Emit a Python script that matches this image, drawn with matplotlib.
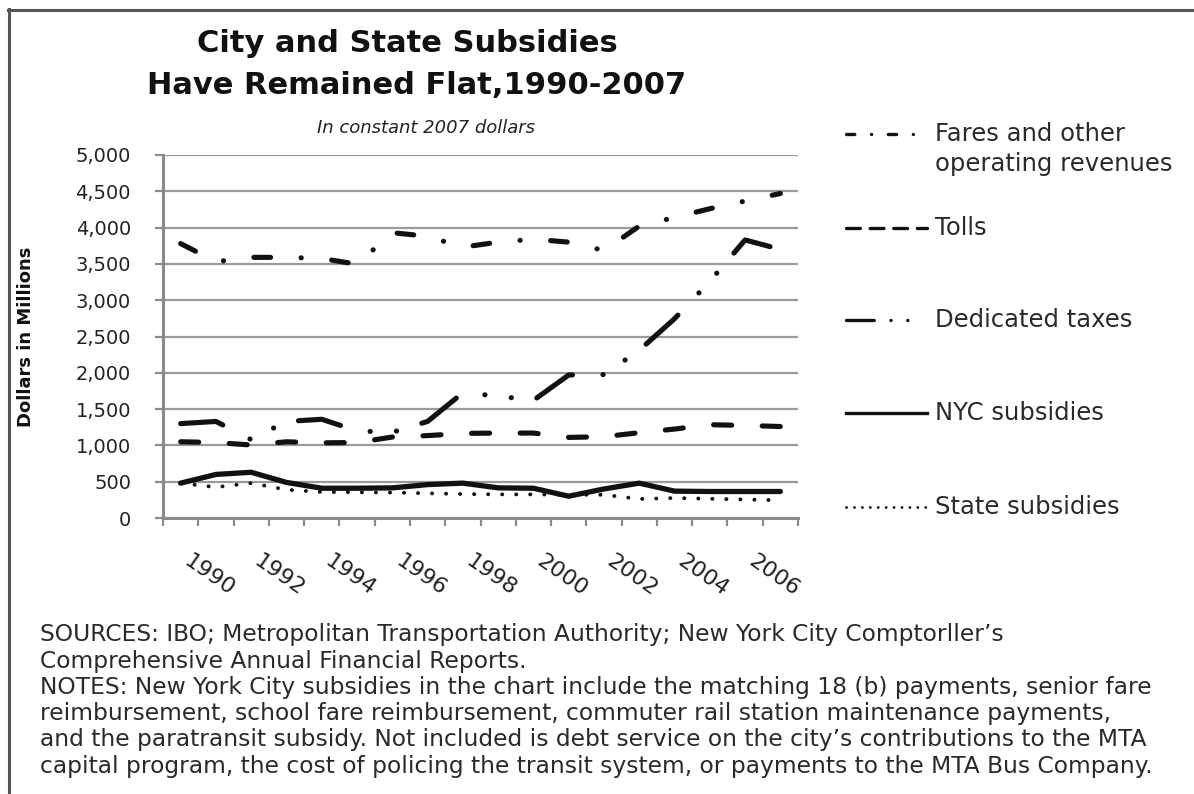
import matplotlib
matplotlib.use("Agg")
import matplotlib.pyplot as plt
from matplotlib.lines import Line2D
from matplotlib.ticker import FuncFormatter
from matplotlib.transforms import ScaledTranslation

plt.rcParams['font.family'] = ['DejaVu Sans']
plt.rcParams['lines.scale_dashes'] = False

# values, millions of 2007 dollars
years = list(range(1990, 2008))
fares = [3780, 3530, 3590, 3590, 3575, 3495, 3930, 3880, 3730, 3800,
         3840, 3800, 3685, 4020, 4140, 4260, 4365, 4470]
tolls = [1050, 1040, 1005, 1050, 1035, 1040, 1115, 1135, 1165, 1170,
         1170, 1110, 1120, 1175, 1225, 1285, 1275, 1260]
dedicated = [1300, 1330, 1080, 1330, 1360, 1200, 1180, 1330, 1725, 1680,
             1620, 1970, 1975, 2310, 2745, 3260, 3830, 3700]
nyc = [480, 600, 630, 490, 410, 410, 415, 460, 480, 415,
       410, 300, 400, 480, 370, 365, 365, 365]
state = [480, 425, 480, 390, 358, 355, 350, 340, 330, 325,
         325, 320, 320, 262, 275, 265, 255, 245]

series_labels = ["Fares and other\noperating revenues", "Tolls",
                 "Dedicated taxes", "NYC subsidies", "State subsidies"]

notes = [
    "SOURCES: IBO; Metropolitan Transportation Authority; New York City Comptorller\u2019s",
    "Comprehensive Annual Financial Reports.",
    "NOTES: New York City subsidies in the chart include the matching 18 (b) payments, senior fare",
    "reimbursement, school fare reimbursement, commuter rail station maintenance payments,",
    "and the paratransit subsidy. Not included is debt service on the city\u2019s contributions to the MTA",
    "capital program, the cost of policing the transit system, or payments to the MTA Bus Company.",
]

W, H = 1194, 794
fig = plt.figure(figsize=(W / 100, H / 100), dpi=100)


def fx(px):
    return px / W


def fy(py):
    return 1 - py / H


ax = fig.add_axes([fx(163), fy(518), fx(798) - fx(163), fy(155) - fy(518)])

x = list(range(len(years)))
ink = "#111111"

# chart lines (dash lengths in points)
ax.plot(x, fares, color=ink, lw=3.7, dash_capstyle="round",
        linestyle=(0, (12, 22, 0.1, 22)))
ax.plot(x, tolls, color=ink, lw=3.7, dash_capstyle="round",
        linestyle=(0, (13, 22)))
ax.plot(x, dedicated, color=ink, lw=3.7, dash_capstyle="round",
        linestyle=(0, (31, 22, 0.1, 19, 0.1, 19)))
ax.plot(x, nyc, color=ink, lw=3.8, solid_capstyle="round")
ax.plot(x, state, color=ink, lw=2.8, dash_capstyle="round",
        linestyle=(0, (0.1, 10)))

ax.set_xlim(-0.5, len(years) - 0.5)
ax.set_ylim(0, 5000)
ax.set_yticks(range(0, 5001, 500))
ax.yaxis.set_major_formatter(FuncFormatter(lambda v, p: f"{int(v):,}"))
ax.grid(axis="y", color="#9a9a9a", lw=1.6)
ax.set_axisbelow(True)

for s in ["top", "right"]:
    ax.spines[s].set_visible(False)
for s in ["left", "bottom"]:
    ax.spines[s].set_color("#8a8a8a")
    ax.spines[s].set_linewidth(2.2)

ax.set_xticks(x[::2])
ax.set_xticklabels([str(y) for y in years[::2]], rotation=-35,
                   ha="left", va="top", rotation_mode="anchor")
ax.set_xticks([i - 0.5 for i in range(len(years) + 1)], minor=True)
ax.tick_params(axis="x", which="major", length=0, pad=24, labelsize=16,
               labelcolor="#222222")
ax.tick_params(axis="x", which="minor", length=6, width=1.6, color="#8a8a8a")
ax.tick_params(axis="y", length=6, width=1.6, color="#8a8a8a", pad=17,
               labelsize=14, labelcolor="#222222")
shift = ScaledTranslation(11 / 100, 0, fig.dpi_scale_trans)
for lab in ax.get_xticklabels():
    lab.set_transform(lab.get_transform() + shift)

ax.set_ylabel("Dollars in Millions", fontsize=13, fontweight="bold",
              color="#111111")
ax.yaxis.set_label_coords(-(163 - 35) / (798 - 163), 0.5)

# titles
fig.text(fx(407), fy(44), "City and State Subsidies", ha="center", va="center",
         fontsize=22, fontweight="bold", color="#111111")
fig.text(fx(417), fy(86), "Have Remained Flat,1990-2007", ha="center",
         va="center", fontsize=22, fontweight="bold", color="#111111")
fig.text(fx(426), fy(128), "In constant 2007 dollars", ha="center",
         va="center", fontsize=13, style="italic", color="#222222")

# legend drawn by hand on the right
legend_styles = [
    dict(lw=2.4, linestyle=(0, (6, 12, 0.1, 12))),
    dict(lw=2.4, linestyle=(0, (10, 7))),
    dict(lw=2.4, linestyle=(0, (20, 12, 0.1, 12, 0.1, 30))),
    dict(lw=2.4, linestyle="-"),
    dict(lw=2.0, linestyle=(0, (0.1, 5.6))),
]
legend_y = [134, 228, 320, 413, 507]
for st, yy, lab in zip(legend_styles, legend_y, series_labels):
    fig.add_artist(Line2D([fx(846), fx(927)], [fy(yy), fy(yy)], color=ink,
                          dash_capstyle="round", **st))
    first, *rest = lab.split("\n")
    fig.text(fx(935), fy(yy), first, ha="left", va="center", fontsize=17.5,
             color="#2a2a2a")
    if rest:
        fig.text(fx(935), fy(yy + 30), rest[0], ha="left", va="center",
                 fontsize=17.5, color="#2a2a2a")

# notes
for i, line in enumerate(notes):
    fig.text(fx(40), fy(635 + i * 26.2), line, ha="left", va="center",
             fontsize=16.8, color="#2a2a2a")

# frame lines at top and left
fig.add_artist(Line2D([fx(8), 1], [fy(9.5), fy(9.5)], color="#555555", lw=2.2))
fig.add_artist(Line2D([fx(8.5), fx(8.5)], [fy(9), 0], color="#555555", lw=2.2))

fig.savefig("out.png", dpi=100)
